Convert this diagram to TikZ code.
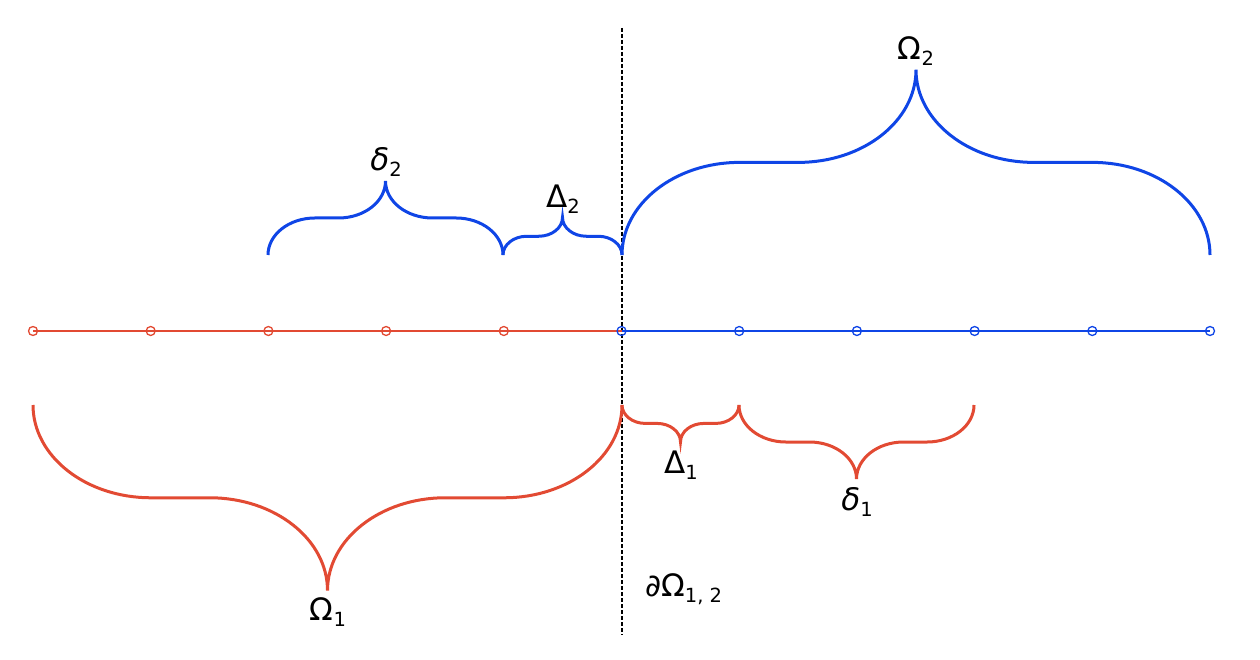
\documentclass[tikz,border=0pt]{standalone}
\usepackage{fontspec}
\setmainfont{DejaVu Sans}
\definecolor{cred}{HTML}{E24A33}
\definecolor{cblue}{HTML}{0F45E6}
\newcommand\lsub[1]{\raisebox{-6pt}{\fontsize{19.5}{24}\selectfont #1}}
\tikzset{
  bracestyle/.style={line width=3pt},
  axisline/.style={line width=2.3pt},
  marker/.style={circle,draw,line width=1.3pt,inner sep=0pt,minimum size=9pt},
  lbl/.style={font=\fontsize{31}{36}\selectfont,inner sep=0pt},
}
\newcommand\mybrace[5]{%
 \pgfmathsetmacro\bxl{#2}\pgfmathsetmacro\bxr{#3}\pgfmathsetmacro\byo{#4}%
 \pgfmathsetmacro\bhw{(#3-#2)/2}%
 \pgfmathsetmacro\ba{0.4*\bhw}%
 \pgfmathsetmacro\bb{0.315*\bhw}%
 \pgfmathsetmacro\bka{0.5523*\ba}%
 \pgfmathsetmacro\bxt{#2+\bhw}%
 \pgfmathsetmacro\bym{#4-(#5)*\bb}%
 \pgfmathsetmacro\byt{#4-2*(#5)*\bb}%
 \pgfmathsetmacro\byc{#4-(#5)*0.5523*\bb}%
 \pgfmathsetmacro\bytc{\byt+(#5)*0.5523*\bb}%
 \pgfmathsetmacro\bxa{\bxl+\ba}%
 \pgfmathsetmacro\bxac{\bxl+\ba-\bka}%
 \pgfmathsetmacro\bxb{\bxt-\ba}%
 \pgfmathsetmacro\bxbc{\bxt-\ba+\bka}%
 \pgfmathsetmacro\bxd{\bxt+\ba-\bka}%
 \pgfmathsetmacro\bxe{\bxt+\ba}%
 \pgfmathsetmacro\bxf{\bxr-\ba}%
 \pgfmathsetmacro\bxfc{\bxr-\ba+\bka}%
 \draw[bracestyle,#1] (\bxl,\byo) .. controls (\bxl,\byc) and (\bxac,\bym) .. (\bxa,\bym)
   -- (\bxb,\bym) .. controls (\bxbc,\bym) and (\bxt,\bytc) .. (\bxt,\byt)
   .. controls (\bxt,\bytc) and (\bxd,\bym) .. (\bxe,\bym)
   -- (\bxf,\bym) .. controls (\bxfc,\bym) and (\bxr,\byc) .. (\bxr,\byo);
}
\begin{document}
\begin{tikzpicture}[x=1pt,y=-1pt]
\useasboundingbox (0,0) rectangle (1260,660);
% boundary
\coordinate (dtop) at (622,28);
\coordinate (dbot) at (622,635);
\draw[line width=1.3pt,dash pattern=on 4pt off 2pt] (dtop) -- (dbot);
% axis markers
\foreach \i in {0,...,10}{
  \coordinate (c\i) at ({33+\i*117.7},331);
}
\draw[axisline,cred] (c0) -- (c5);
\draw[axisline,cblue] (c5) -- (c10);
\foreach \i in {0,...,4}{ \node[marker,cred] (m\i) at (c\i) {}; }
\foreach \i in {5,...,10}{ \node[marker,cblue] (m\i) at (c\i) {}; }
% braces above (blue)
\mybrace{cblue}{268}{503}{255}{1}
\mybrace{cblue}{503}{622}{255}{1}
\mybrace{cblue}{622}{1210}{255}{1}
% braces below (red)
\mybrace{cred}{33}{622}{405}{-1}
\mybrace{cred}{622}{739}{405}{-1}
\mybrace{cred}{739}{974}{405}{-1}
% labels
\node[lbl,anchor=base] (lO2) at (916,60) {Ω\lsub{2}};
\node[lbl,anchor=base] (ld2) at (386,171) {\itshape δ\lsub{\upshape 2}};
\node[lbl,anchor=base] (lD2) at (563,208) {Δ\lsub{2}};
\node[lbl,anchor=base] (lO1) at (328,620) {Ω\lsub{1}};
\node[lbl,anchor=base] (lD1) at (681,473) {Δ\lsub{1}};
\node[lbl,anchor=base] (ld1) at (857,510) {\itshape δ\lsub{\upshape 1}};
\node[lbl,anchor=base west] (lbd) at (645,596) {∂Ω\lsub{1, 2}};
\end{tikzpicture}
\end{document}
